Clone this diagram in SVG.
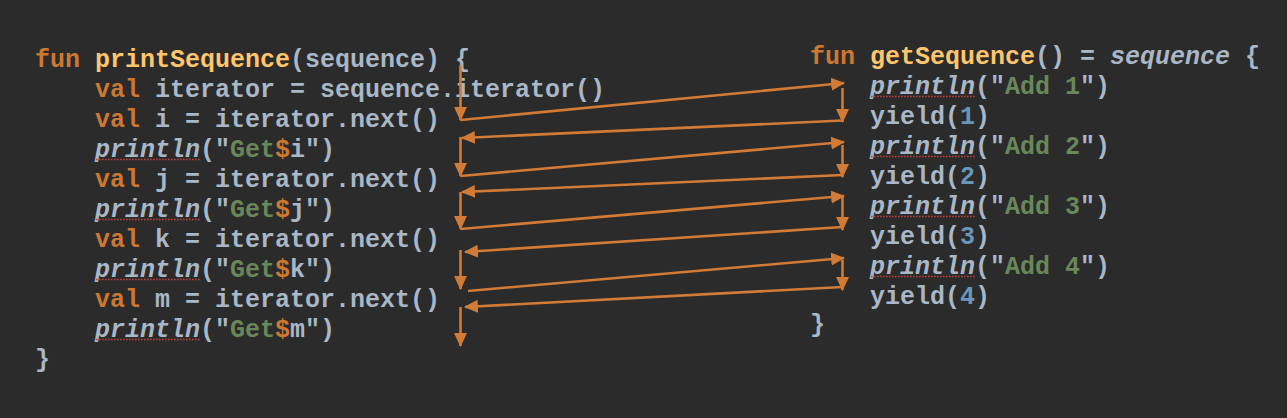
<svg xmlns="http://www.w3.org/2000/svg" width="1287" height="418" viewBox="0 0 1287 418">
<style>
.c{font-family:"Liberation Mono","DejaVu Sans Mono",monospace;font-size:25px;font-weight:bold;fill:#a9b7c6}
.k{fill:#cc7832}
.f{fill:#ffc66d}
.s{fill:#6a8759}
.n{fill:#6897bb}
.i{font-style:italic}
.u{stroke:#c0403c;stroke-width:1.6;stroke-dasharray:1.6 1.4;fill:none}
.a{stroke:#d27b36;stroke-width:2.6;fill:none;marker-end:url(#ah)}
</style>
<defs>
<marker id="ah" markerUnits="userSpaceOnUse" markerWidth="14" markerHeight="14" viewBox="0 0 13 12" refX="12" refY="6" orient="auto">
<path d="M0,0 L13,6 L0,12 z" fill="#d27b36"/>
</marker>
</defs>
<rect width="1287" height="418" fill="#2b2b2b"/>
<g id="left-code">
<g id="l0"><text class="c" x="35" y="67"><tspan class="k">fun</tspan> <tspan class="f">printSequence</tspan>(sequence) {</text></g>
<g id="l1"><text class="c" x="95" y="97"><tspan class="k">val</tspan> iterator = sequence.iterator()</text></g>
<g id="l2"><text class="c" x="95" y="127"><tspan class="k">val</tspan> i = iterator.next()</text></g>
<g id="l3"><text class="c" x="95" y="157"><tspan class="i">println</tspan>("<tspan class="s">Get</tspan><tspan class="k">$</tspan>i")</text><line class="u" x1="96" y1="159.5" x2="200" y2="159.5"/></g>
<g id="l4"><text class="c" x="95" y="187"><tspan class="k">val</tspan> j = iterator.next()</text></g>
<g id="l5"><text class="c" x="95" y="217"><tspan class="i">println</tspan>("<tspan class="s">Get</tspan><tspan class="k">$</tspan>j")</text><line class="u" x1="96" y1="219.5" x2="200" y2="219.5"/></g>
<g id="l6"><text class="c" x="95" y="247"><tspan class="k">val</tspan> k = iterator.next()</text></g>
<g id="l7"><text class="c" x="95" y="277"><tspan class="i">println</tspan>("<tspan class="s">Get</tspan><tspan class="k">$</tspan>k")</text><line class="u" x1="96" y1="279.5" x2="200" y2="279.5"/></g>
<g id="l8"><text class="c" x="95" y="307"><tspan class="k">val</tspan> m = iterator.next()</text></g>
<g id="l9"><text class="c" x="95" y="337"><tspan class="i">println</tspan>("<tspan class="s">Get</tspan><tspan class="k">$</tspan>m")</text><line class="u" x1="96" y1="339.5" x2="200" y2="339.5"/></g>
<g id="l10"><text class="c" x="35" y="367">}</text></g>
</g>
<g id="right-code">
<g id="r0"><text class="c" x="810" y="64"><tspan class="k">fun</tspan> <tspan class="f">getSequence</tspan>() = <tspan class="i">sequence</tspan> {</text></g>
<g id="r1"><text class="c" x="870" y="94"><tspan class="i">println</tspan>("<tspan class="s">Add 1</tspan>")</text><line class="u" x1="871" y1="96.5" x2="975" y2="96.5"/></g>
<g id="r2"><text class="c" x="870" y="124">yield(<tspan class="n">1</tspan>)</text></g>
<g id="r3"><text class="c" x="870" y="154"><tspan class="i">println</tspan>("<tspan class="s">Add 2</tspan>")</text><line class="u" x1="871" y1="156.5" x2="975" y2="156.5"/></g>
<g id="r4"><text class="c" x="870" y="184">yield(<tspan class="n">2</tspan>)</text></g>
<g id="r5"><text class="c" x="870" y="214"><tspan class="i">println</tspan>("<tspan class="s">Add 3</tspan>")</text><line class="u" x1="871" y1="216.5" x2="975" y2="216.5"/></g>
<g id="r6"><text class="c" x="870" y="244">yield(<tspan class="n">3</tspan>)</text></g>
<g id="r7"><text class="c" x="870" y="274"><tspan class="i">println</tspan>("<tspan class="s">Add 4</tspan>")</text><line class="u" x1="871" y1="276.5" x2="975" y2="276.5"/></g>
<g id="r8"><text class="c" x="870" y="304">yield(<tspan class="n">4</tspan>)</text></g>
<g id="r9"><text class="c" x="810" y="332">}</text></g>
</g>
<g id="connectors">
<line class="a" x1="460.5" y1="65" x2="460.5" y2="120"/>
<line class="a" x1="460.5" y1="120" x2="844" y2="83"/>
<line class="a" x1="842.5" y1="88" x2="842.5" y2="122"/>
<line class="a" x1="842.5" y1="120.5" x2="462" y2="138"/>
<line class="a" x1="460.5" y1="137" x2="460.5" y2="176"/>
<line class="a" x1="460.5" y1="176" x2="844" y2="142"/>
<line class="a" x1="842.5" y1="145" x2="842.5" y2="177"/>
<line class="a" x1="842.5" y1="175" x2="462" y2="192"/>
<line class="a" x1="460.5" y1="192" x2="460.5" y2="229"/>
<line class="a" x1="460.5" y1="229" x2="844" y2="196"/>
<line class="a" x1="842.5" y1="197" x2="842.5" y2="230"/>
<line class="a" x1="842.5" y1="227" x2="465" y2="252"/>
<line class="a" x1="460.5" y1="250" x2="460.5" y2="289"/>
<line class="a" x1="468" y1="291" x2="844" y2="258"/>
<line class="a" x1="842.5" y1="260" x2="842.5" y2="290"/>
<line class="a" x1="842.5" y1="287" x2="465" y2="307"/>
<line class="a" x1="460.5" y1="307" x2="460.5" y2="346"/>
</g>
</svg>
